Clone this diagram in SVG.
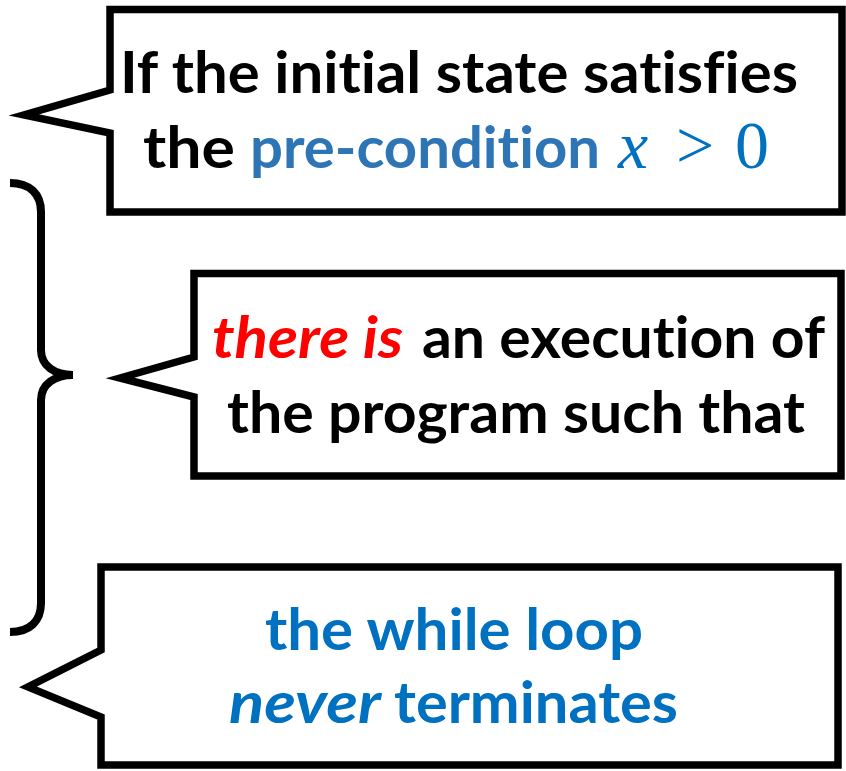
<svg xmlns="http://www.w3.org/2000/svg" width="846" height="771" viewBox="0 0 846 771">
  <style>
    .box { fill: #ffffff; stroke: #000000; stroke-width: 7.5; stroke-linejoin: miter; stroke-miterlimit: 10; }
    .brace { fill: none; stroke: #000000; stroke-width: 8; stroke-linecap: butt; }
    .t { font-family: Lato, "Open Sans", "Liberation Sans", sans-serif; font-weight: bold; font-size: 58px; font-variant-ligatures: none; }
    .it { font-style: italic; }
    .blk { fill: #000000; }
    .pre { fill: #2E75B6; }
    .red { fill: #FF0000; }
    .blue { fill: #0070C0; }
    .math { font-family: "Liberation Serif", "DejaVu Serif", serif; font-size: 68px; fill: #0070C0; }
  </style>

  <!-- curly brace grouping the first two statements -->
  <g id="brace">
    <path class="brace" d="M10,183 C30,183 41,194 41,212 V350 C41,366 55,375 73,375 C55,375 41,384 41,400 V603 C41,621 30,632 10,632"/>
  </g>

  <g id="callout-precondition">
    <path class="box" d="M110,9.5 H842 V212 H110 V133 L24,115 L110,90 Z"/>
    <text class="t blk" x="120" y="93" textLength="678" lengthAdjust="spacingAndGlyphs">If the initial state satisfies</text>
    <text class="t blk" x="143" y="168" textLength="92" lengthAdjust="spacingAndGlyphs">the</text>
    <text class="t pre" x="250" y="168" textLength="350" lengthAdjust="spacingAndGlyphs">pre-condition</text>
    <text class="math" x="618" y="168" font-style="italic">x</text>
    <text class="math" x="676" y="168">&gt;</text>
    <text class="math" x="735" y="168">0</text>
  </g>

  <g id="callout-execution">
    <path class="box" d="M194,273.5 H841 V476 H194 V397 L120,378 L194,357 Z"/>
    <text class="t it red" x="212" y="358" textLength="191" lengthAdjust="spacingAndGlyphs">there is</text>
    <text class="t blk" x="422" y="358" textLength="403" lengthAdjust="spacingAndGlyphs">an execution of</text>
    <text class="t blk" x="227" y="433" textLength="578" lengthAdjust="spacingAndGlyphs">the program such that</text>
  </g>

  <g id="callout-loop">
    <path class="box" d="M101,567 H838 V765 H101 V717 L28,687 L101,650 Z"/>
    <text class="t blue" x="265" y="650" textLength="378" lengthAdjust="spacingAndGlyphs">the while loop</text>
    <text class="t it blue" x="229" y="723" textLength="152" lengthAdjust="spacingAndGlyphs">never</text>
    <text class="t blue" x="394" y="723" textLength="284" lengthAdjust="spacingAndGlyphs">terminates</text>
  </g>
</svg>
